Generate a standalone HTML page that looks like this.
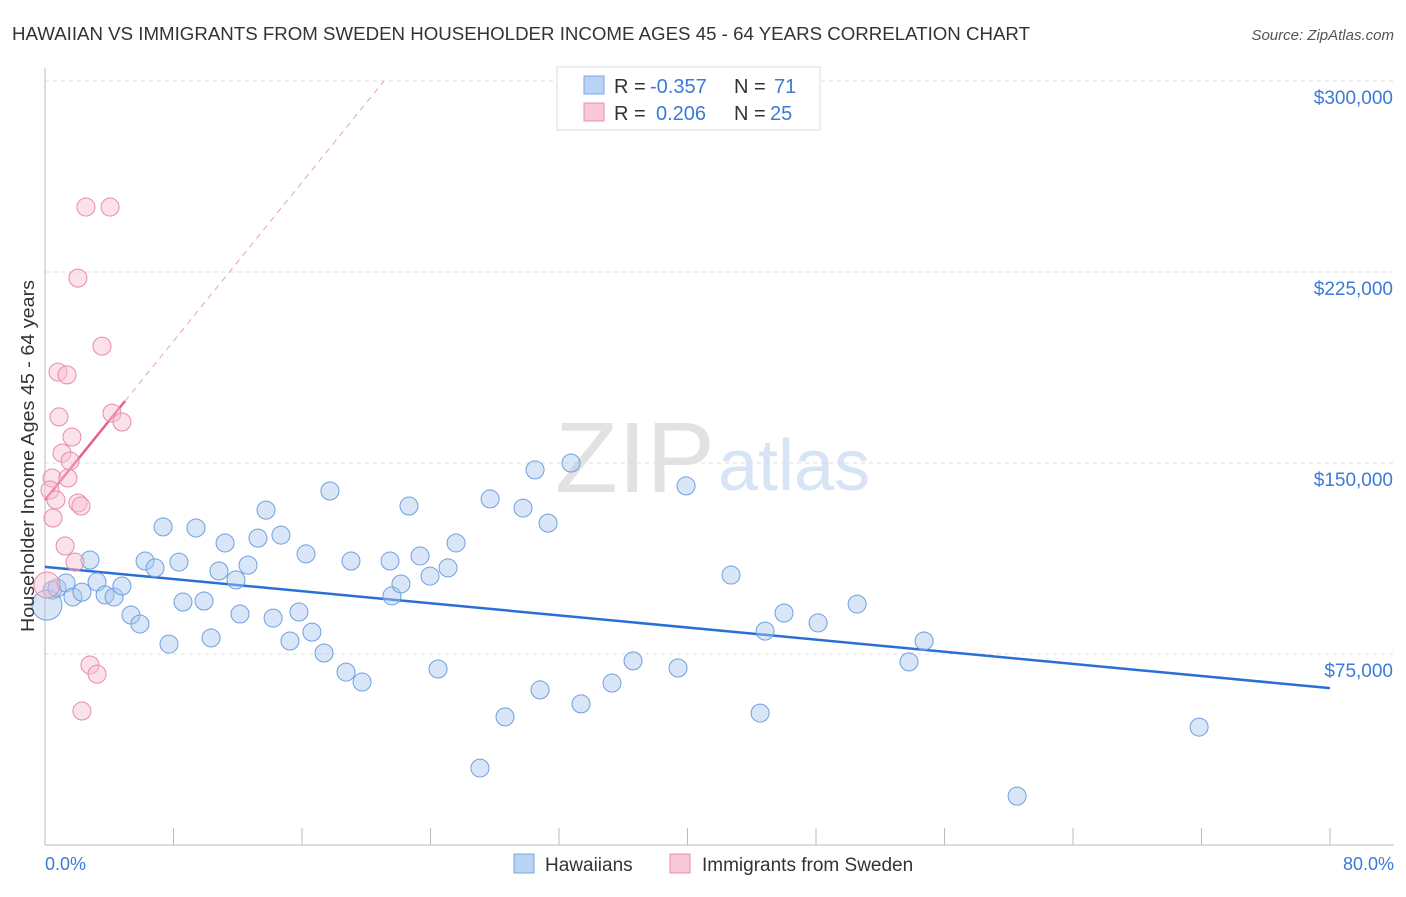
<!DOCTYPE html>
<html><head><meta charset="utf-8"><style>
body{margin:0;background:#fff;font-family:"Liberation Sans",sans-serif;}
svg text{font-family:"Liberation Sans",sans-serif;}
</style></head><body>
<svg id="chart" width="1406" height="892" xmlns="http://www.w3.org/2000/svg">
<text x="12" y="40" font-size="18" fill="#333" textLength="1018" lengthAdjust="spacingAndGlyphs">HAWAIIAN VS IMMIGRANTS FROM SWEDEN HOUSEHOLDER INCOME AGES 45 - 64 YEARS CORRELATION CHART</text>
<text x="1394" y="40" font-size="15" fill="#555" text-anchor="end" font-style="italic">Source: ZipAtlas.com</text>
<text x="555" y="492" font-size="100" fill="#e2e2e2" font-family="Liberation Serif" textLength="160" lengthAdjust="spacingAndGlyphs">ZIP</text>
<text x="718" y="490" font-size="72" fill="#d6e4f5">atlas</text>
<g id="grid"></g><g id="axes"></g><g id="trends"></g><g id="pts"></g>
<text transform="translate(34,456) rotate(-90)" font-size="18" fill="#333" text-anchor="middle" textLength="352" lengthAdjust="spacingAndGlyphs">Householder Income Ages 45 - 64 years</text>
<text x="45" y="870" font-size="18" fill="#3d79d8">0.0%</text>
<text x="1394" y="870" font-size="18" fill="#3d79d8" text-anchor="end">80.0%</text>
<g>
<rect x="557" y="67" width="263" height="63" fill="#fff" stroke="#ddd"/>
<rect x="584" y="76" width="20" height="18" fill="#b9d3f4" stroke="#7aa5e0"/>
<rect x="584" y="103" width="20" height="18" fill="#f9c8d6" stroke="#e890aa"/>
<text x="614" y="93" font-size="20" fill="#333">R =</text>
<text x="650" y="93" font-size="20" fill="#3d79d8">-0.357</text>
<text x="734" y="93" font-size="20" fill="#333">N =</text>
<text x="774" y="93" font-size="20" fill="#3d79d8">71</text>
<text x="614" y="120" font-size="20" fill="#333">R =</text>
<text x="656" y="120" font-size="20" fill="#3d79d8">0.206</text>
<text x="734" y="120" font-size="20" fill="#333">N =</text>
<text x="770" y="120" font-size="20" fill="#3d79d8">25</text>
</g>
<g>
<rect x="514" y="854" width="20" height="19" fill="#b9d3f4" stroke="#7aa5e0"/>
<text x="545" y="871" font-size="19" fill="#333">Hawaiians</text>
<rect x="670" y="854" width="20" height="19" fill="#f9c8d6" stroke="#e890aa"/>
<text x="702" y="871" font-size="19" fill="#333">Immigrants from Sweden</text>
</g>
</svg>
<script>
const yTicks=[75000,150000,225000,300000];
const yTickLabels=["$75,000","$150,000","$225,000","$300,000"];
const xTicks=[0,8,16,24,32,40,48,56,64,72,80];
const blueX=[0.44,0.12,0.75,1.31,1.74,2.30,2.80,3.24,3.74,4.30,4.79,5.35,5.91,6.23,6.85,7.35,7.72,8.34,8.59,9.40,9.90,10.34,10.83,11.21,11.89,12.14,12.64,13.26,13.76,14.20,14.69,15.25,15.81,16.25,16.62,17.37,17.74,18.74,19.05,19.74,21.48,21.60,22.16,22.66,23.35,23.97,24.47,25.09,25.59,27.08,27.71,28.64,29.76,30.51,30.82,31.32,32.75,33.37,35.30,36.61,39.41,39.91,42.71,44.52,44.83,46.01,48.13,50.56,53.79,54.73,60.52,71.85];
const blueY=[100100,94200,100900,102900,97400,99300,111900,103300,98200,97400,101700,90300,86800,111500,108800,124900,78900,111100,95400,124500,95800,81300,107600,118600,104100,90700,109900,120500,131500,89100,121700,80100,91500,114300,83600,75400,139000,67900,111500,64000,111500,97800,102500,133100,113500,105600,69100,108800,118600,30200,135900,50300,132300,147300,60900,126400,150000,55400,63600,72300,69500,141000,106000,51800,84000,91100,87200,94600,71900,80100,19200,46300];
const pinkX=[0.12,0.44,0.31,0.68,0.50,0.81,0.87,1.06,1.25,1.37,1.43,1.56,1.68,1.87,2.05,2.05,2.24,2.30,2.55,2.80,3.24,3.55,4.05,4.17,4.79];
const pinkY=[102100,144100,139400,135500,128400,185700,168100,153900,117400,184600,144100,150800,160200,111100,134300,222600,133100,52600,250500,70700,67100,195900,250500,169600,166100];
const blueTrend=[[0,109200],[80,61600]];
const pinkTrend=[[0,135500],[4.98,174300]];
const pinkTrendExt=[[4.98,174300],[21.1,300000]];
const NS="http://www.w3.org/2000/svg";
const X=v=>45+v/80*1285, Y=v=>845-v/75000*191;
function mk(tag,attrs,parent){const e=document.createElementNS(NS,tag);for(const k in attrs)e.setAttribute(k,attrs[k]);document.getElementById(parent).appendChild(e);return e;}
yTicks.forEach((t,i)=>{
 const l=mk('line',{x1:45,x2:1394,y1:Y(t),y2:Y(t),stroke:'#ddd','stroke-dasharray':'4,4'},'grid');
 
 
 const tx=mk('text',{x:1393,y:Y(t)+23,'font-size':19,fill:'#3d79d8','text-anchor':'end'},'grid');
 tx.textContent=yTickLabels[i];
 
 
});
const ax=mk('line',{x1:45,x2:1394,y1:845,y2:845,stroke:'#bbb'},'axes');


const ay=mk('line',{x1:45,x2:45,y1:68,y2:845,stroke:'#bbb'},'axes');


xTicks.forEach(t=>{
 const l=mk('line',{x1:X(t),x2:X(t),y1:828,y2:845,stroke:'#bbb'},'axes');
 
 
});
function pt(x,y,r,fill,stroke,name){
 const c=mk('circle',{cx:X(x),cy:Y(y),r:r,fill:fill,'fill-opacity':0.45,stroke:stroke,'stroke-width':1},'pts');
 
 
}
blueX.forEach((x,i)=>pt(x,blueY[i],i===1?15:9,'#a9c7f0','#6f9fe0','hawaiian-point'));
pinkX.forEach((x,i)=>pt(x,pinkY[i],i===0?13:9,'#f7bfd0','#e88aa8','sweden-point'));
function line(p,stroke,w,dash,name){
 const l=mk('line',{x1:X(p[0][0]),y1:Y(p[0][1]),x2:X(p[1][0]),y2:Y(p[1][1]),stroke:stroke,'stroke-width':w},'trends');
 if(dash)l.setAttribute('stroke-dasharray',dash);
 
 
}
line(blueTrend,'#2a6fd6',2.5,null,'hawaiian-trend-line');
line(pinkTrendExt,'#eaa0b8',1,'6,5','sweden-trend-extension');
line(pinkTrend,'#e8608a',2.5,null,'sweden-trend-line');
</script>
</body></html>
